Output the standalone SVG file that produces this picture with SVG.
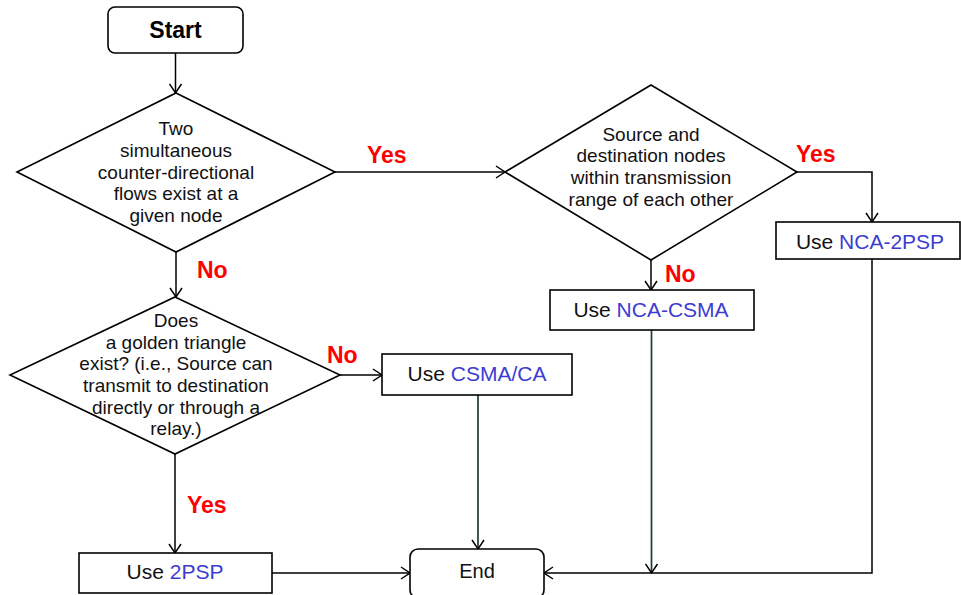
<svg xmlns="http://www.w3.org/2000/svg" width="961" height="595" viewBox="0 0 961 595">
<defs>
<style>
.shape{fill:#fff;stroke:#000;stroke-width:1.6}
.t{font-family:"Liberation Sans",Arial,sans-serif;font-size:19px;fill:#111;text-anchor:middle}
.bt{font-family:"Liberation Sans",Arial,sans-serif;font-size:21px;fill:#111;text-anchor:middle}
.blue{fill:#3c3cd2}
.lbl{font-family:"Liberation Sans",Arial,sans-serif;font-size:23px;font-weight:bold;fill:#ff0000}
.c{fill:none;stroke:#000;stroke-width:1.5;marker-end:url(#arr)}
.cd{fill:none;stroke:#1e3b2e;stroke-width:1.7;marker-end:url(#arr)}
</style>
<marker id="arr" markerUnits="userSpaceOnUse" markerWidth="14" markerHeight="14" refX="11" refY="7" orient="auto">
<path d="M2,1 L11,7 L2,13" fill="none" stroke="#000" stroke-width="1.5"/>
</marker>
</defs>
<rect width="961" height="595" fill="#fff"/>
<g id="connectors">
<line class="c" x1="175.5" y1="53" x2="175.5" y2="93"/>
<line class="c" x1="335" y1="172" x2="505" y2="172"/>
<line class="c" x1="176" y1="252" x2="176" y2="297"/>
<line class="c" x1="651" y1="260" x2="651" y2="290"/>
<polyline class="c" points="797,172 872,172 872,222"/>
<line class="c" x1="340" y1="375" x2="382" y2="375"/>
<line class="c" x1="175" y1="454" x2="175" y2="553"/>
<line class="cd" x1="478" y1="395" x2="478" y2="549"/>
<line class="c" x1="272" y1="573" x2="410" y2="573"/>
<line class="cd" x1="651.5" y1="330" x2="651.5" y2="573"/>
<polyline class="c" points="872,259 872,573 544,573"/>
<text class="lbl" x="367" y="163">Yes</text>
<text class="lbl" x="197" y="278">No</text>
<text class="lbl" x="796" y="162">Yes</text>
<text class="lbl" x="665" y="282">No</text>
<text class="lbl" x="327" y="363">No</text>
<text class="lbl" x="187" y="513">Yes</text>
</g>
<g id="start">
<rect class="shape" x="108" y="7" width="135" height="46" rx="7"/>
<text x="175.5" y="37.5" style="font-family:'Liberation Sans',Arial,sans-serif;font-size:23px;font-weight:bold;text-anchor:middle;fill:#000">Start</text>
</g>
<g id="decision1">
<polygon class="shape" points="176,93 335,172 176,252 17,172"/>
<text class="t" x="176" y="135">Two</text>
<text class="t" x="176" y="157">simultaneous</text>
<text class="t" x="176" y="178.5">counter-directional</text>
<text class="t" x="176" y="200">flows exist at a</text>
<text class="t" x="176" y="222">given node</text>
</g>
<g id="decision2">
<polygon class="shape" points="651,85 797,172 651,260 505,172"/>
<text class="t" x="651" y="140.5">Source and</text>
<text class="t" x="651" y="162">destination nodes</text>
<text class="t" x="651" y="184">within transmission</text>
<text class="t" x="651" y="205.5">range of each other</text>
</g>
<g id="decision3">
<polygon class="shape" points="175,297 340,375 175,454 10,375"/>
<text class="t" x="176" y="327">Does</text>
<text class="t" x="176" y="348.5">a golden triangle</text>
<text class="t" x="176" y="370">exist? (i.e., Source can</text>
<text class="t" x="176" y="392">transmit to destination</text>
<text class="t" x="176" y="413.5">directly or through a</text>
<text class="t" x="176" y="435">relay.)</text>
</g>
<g id="nca2psp">
<rect class="shape" x="776" y="222" width="184" height="37"/>
<text class="bt" x="870" y="249">Use <tspan class="blue">NCA-2PSP</tspan></text>
</g>
<g id="ncacsma">
<rect class="shape" x="550" y="290" width="204" height="40"/>
<text class="bt" x="651" y="317">Use <tspan class="blue">NCA-CSMA</tspan></text>
</g>
<g id="csmaca">
<rect class="shape" x="382" y="354" width="190" height="41"/>
<text class="bt" x="477" y="381">Use <tspan class="blue">CSMA/CA</tspan></text>
</g>
<g id="twopsp">
<rect class="shape" x="79" y="553" width="193" height="40"/>
<text class="bt" x="175" y="579">Use <tspan class="blue">2PSP</tspan></text>
</g>
<g id="end">
<rect class="shape" x="410" y="549" width="134" height="49" rx="8"/>
<text x="477" y="578" style="font-family:'Liberation Sans',Arial,sans-serif;font-size:20px;text-anchor:middle;fill:#111">End</text>
</g>
</svg>
